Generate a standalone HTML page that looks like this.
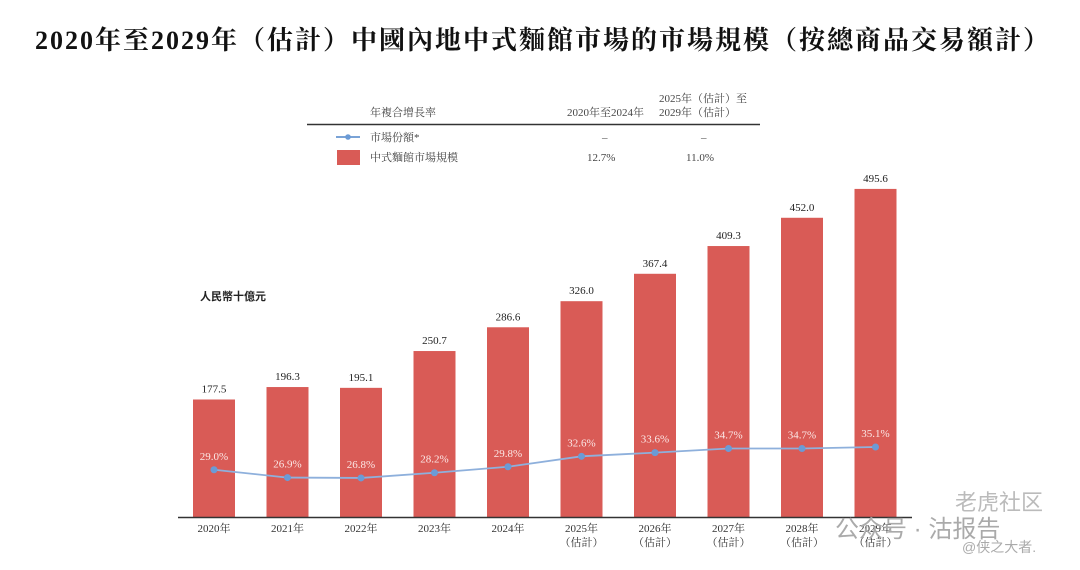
<!DOCTYPE html>
<html><head><meta charset="utf-8">
<style>
body{margin:0;background:#fff;}
#wrap{position:relative;width:1080px;height:570px;overflow:hidden;background:#fff;font-family:"Liberation Serif","Noto Serif CJK SC",serif;}
.t{position:absolute;white-space:nowrap;}
</style></head>
<body>
<div id="wrap">
<div class="t" style="left:35px;top:20px;font-size:26px;font-weight:bold;color:#111;letter-spacing:2px;">2020年至2029年（估計）中國內地中式麵館市場的市場規模（按總商品交易額計）</div>
<svg id="chart" width="1080" height="570" style="position:absolute;left:0;top:0"></svg>
</div>
<script>
const categories=["2020年","2021年","2022年","2023年","2024年","2025年","2026年","2027年","2028年","2029年"];
const estFlags=[0,0,0,0,0,1,1,1,1,1];
const marketSize=[177.5,196.3,195.1,250.7,286.6,326.0,367.4,409.3,452.0,495.6];
const marketShare=[29.0,26.9,26.8,28.2,29.8,32.6,33.6,34.7,34.7,35.1];
const cagrLabels=["12.7%","11.0%"];

const NS="http://www.w3.org/2000/svg";
const svg=document.getElementById('chart');
const F='"Liberation Serif","Noto Serif CJK SC",serif';
function mk(tag,attrs,txt){const e=document.createElementNS(NS,tag);for(const k in attrs)e.setAttribute(k,attrs[k]);if(txt!==undefined)e.textContent=txt;svg.appendChild(e);return e;}
const base=517;
function xc(i){return 214+i*73.5;}
function yBar(v){return base-v*0.662;}
function yLine(v){return 447+(35.1-v)*3.73;}

let e;
e=mk('text',{x:370,y:116,'font-size':11,fill:'#444','font-family':F},'年複合增長率');

e=mk('text',{x:567,y:116,'font-size':11,fill:'#444','font-family':F},'2020年至2024年');

e=mk('text',{x:659,y:102,'font-size':11,fill:'#444','font-family':F},'2025年（估計）至');

e=mk('text',{x:659,y:116,'font-size':11,fill:'#444','font-family':F},'2029年（估計）');

e=mk('line',{x1:307,x2:760,y1:124.5,y2:124.5,stroke:'#333','stroke-width':1.5});

e=mk('line',{x1:336,x2:360,y1:137,y2:137,stroke:'#7aa3d6','stroke-width':2});

mk('circle',{cx:348,cy:137,r:2.8,fill:'#6b9bd6'});
e=mk('text',{x:370,y:141,'font-size':11,fill:'#444','font-family':F},'市場份額*');

mk('text',{x:602,y:141,'font-size':11,fill:'#444','font-family':F},'–');
mk('text',{x:701,y:141,'font-size':11,fill:'#444','font-family':F},'–');
e=mk('rect',{x:337,y:150,width:23,height:15,fill:'#d95b56'});

e=mk('text',{x:370,y:161,'font-size':11,fill:'#444','font-family':F},'中式麵館市場規模');

e=mk('text',{x:587,y:161,'font-size':11,fill:'#444','font-family':F},cagrLabels[0]);

e=mk('text',{x:686,y:161,'font-size':11,fill:'#444','font-family':F},cagrLabels[1]);


e=mk('text',{x:200,y:300,'font-size':11,'font-weight':'bold',fill:'#222','font-family':'"Liberation Sans","Noto Sans CJK SC",sans-serif'},'人民幣十億元');


marketSize.forEach((v,i)=>{
  const y=yBar(v);
  const r=mk('rect',{x:xc(i)-21,y:y,width:42,height:base-y,fill:'#d95b56'});
  
  
  const t=mk('text',{x:xc(i),y:y-7,'text-anchor':'middle','font-size':11,fill:'#222','font-family':F},v.toFixed(1));
  
  
});
e=mk('line',{x1:178,x2:912,y1:base+0.5,y2:base+0.5,stroke:'#333','stroke-width':1.5});

categories.forEach((c,i)=>{
  const t=mk('text',{x:xc(i),y:532,'text-anchor':'middle','font-size':11,fill:'#333','font-family':F},c);
  
  
  if(estFlags[i]){
    const t2=mk('text',{x:xc(i),y:546,'text-anchor':'middle','font-size':11,fill:'#333','font-family':F},'（估計）');
    
    
  }
});
let d='';
marketShare.forEach((v,i)=>{const x=xc(i),y=yLine(v);d+=(i?' L':'M')+x+' '+y;});
e=mk('path',{d:d,fill:'none',stroke:'#8eb0dc','stroke-width':1.8});

marketShare.forEach((v,i)=>{
  const c=mk('circle',{cx:xc(i),cy:yLine(v),r:3.5,fill:'#6b9bd6'});
  
  
  const t=mk('text',{x:xc(i),y:yLine(v)-10,'text-anchor':'middle','font-size':11,fill:'#fbe7e6','font-family':F},v.toFixed(1)+'%');
  
  
});
e=mk('text',{x:955,y:510,'font-size':22,fill:'#bbb','font-family':'"Liberation Sans","Noto Sans CJK SC",sans-serif'},'老虎社区');

e=mk('text',{x:835,y:537,'font-size':24,fill:'#aaa','font-family':'"Liberation Sans","Noto Sans CJK SC",sans-serif'},'公众号 · 沽报告');

e=mk('text',{x:962,y:552,'font-size':14,fill:'#aaa','font-family':'"Liberation Sans","Noto Sans CJK SC",sans-serif'},'@侠之大者.');

</script>
</body></html>
